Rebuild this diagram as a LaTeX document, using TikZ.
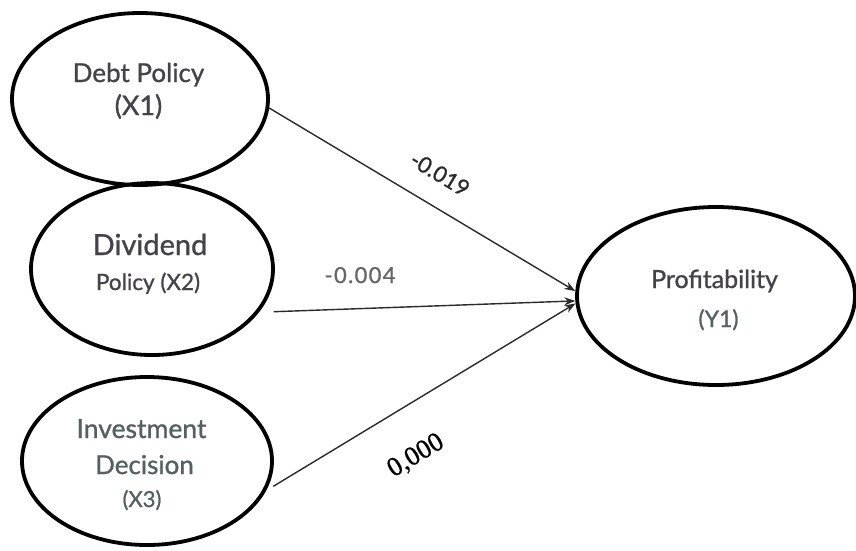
\documentclass[tikz,border=0pt]{standalone}
\usepackage{fontspec}
\setmainfont{Lato}[FakeBold=1.0]
\newfontfamily\serifnum{Liberation Serif}[FakeBold=0.8]
\usetikzlibrary{arrows.meta,shapes.geometric}
\definecolor{txtA}{HTML}{46424A}
\definecolor{txtB}{HTML}{556060}
\definecolor{txtC}{HTML}{666666}
\definecolor{lineC}{HTML}{2A2A2A}
\begin{document}
\begin{tikzpicture}[x=1pt,y=-1pt,
  latent/.style={draw=black,line width=3.8pt,ellipse,inner sep=0pt},
  lbl/.style={anchor=base,inner sep=0pt,text=txtA},
  path/.style={draw=lineC,line width=1.4pt,-{Stealth[length=11pt,width=8pt]}},
  fs/.style={font=\fontsize{#1}{#1}\selectfont}]
\useasboundingbox (0,0) rectangle (856,550);
\fill[white] (0,0) rectangle (856,550);
% latent variables
\node[latent,minimum width=256pt,minimum height=172pt] (e1) at (140,99) {};
\node[latent,minimum width=242pt,minimum height=172pt] (e2) at (152,269) {};
\node[latent,minimum width=250pt,minimum height=168pt] (e3) at (147,461) {};
\node[latent,minimum width=278pt,minimum height=178pt] (e4) at (716,296) {};
% texts
\node[lbl,fs=26] (t1a) at (138.5,82) {Debt Policy};
\node[lbl,fs=27] (t1b) at (138.5,115) {(X1)};
\node[lbl,fs=29] (t2a) at (150,255) {Dividend};
\node[lbl,fs=22.5] (t2b) at (148,290) {Policy (X2)};
\node[lbl,fs=26.5,text=txtB] (t3a) at (141.5,438) {Investment};
\node[lbl,fs=26,text=txtB] (t3b) at (144.5,474) {Decision};
\node[lbl,fs=22,text=txtB] (t3c) at (142,507) {(X3)};
\node[lbl,fs=25] (t4a) at (714.5,288) {Profitability};
\node[lbl,fs=23,text=txtB] (t4b) at (718.5,327) {(Y1)};
% paths
\draw[path] (e1.-4) -- (e4.178.8);
\draw[path,shorten <=14.6pt] (e2.-22.7) -- (e4.182);
\draw[path,shorten <=8.4pt] (e3.-14) -- (e4.183.5);
% coefficients
\node[lbl,fs=22,text=txtC] (c2) at (360,283) {\addfontfeature{LetterSpace=6}-0.004};
\node[inner sep=0pt,fs=22,text=lineC,rotate=-31] (c1) at (440,174) {-0.019};
\node[inner sep=0pt,font=\serifnum\fontsize{27}{27}\selectfont,text=black,rotate=31] (c3) at (416,456) {0,000};
\end{tikzpicture}
\end{document}
